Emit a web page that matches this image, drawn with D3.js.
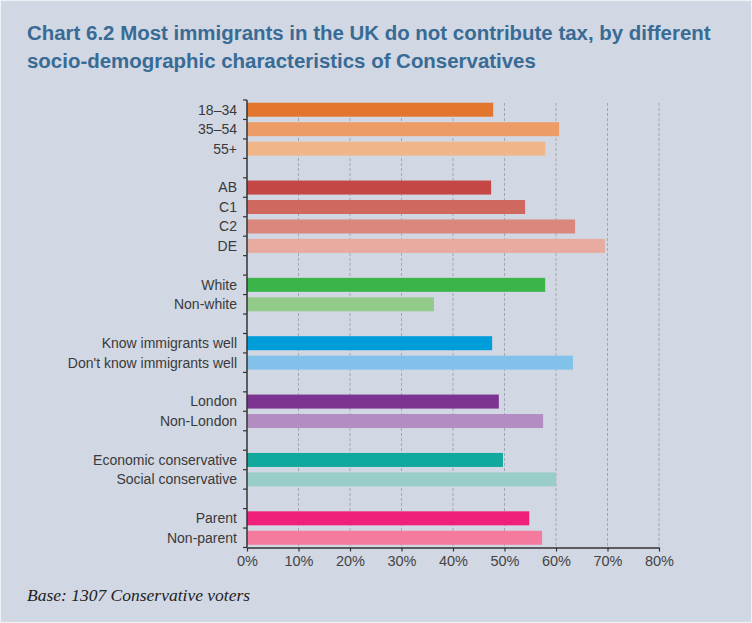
<!DOCTYPE html>
<html><head><meta charset="utf-8">
<script src="https://cdn.jsdelivr.net/npm/d3@7"></script>
<style>
html,body{margin:0;padding:0;background:#ffffff;}
svg{display:block;}
</style></head>
<body>
<script>
const categories = ["18–34","35–54","55+","","AB","C1","C2","DE","","White","Non-white","","Know immigrants well","Don't know immigrants well","","London","Non-London","","Economic conservative","Social conservative","","Parent","Non-parent"];
const values = [47.8,60.6,57.9,null,47.4,54.0,63.7,69.5,null,57.9,36.3,null,47.6,63.3,null,48.9,57.5,null,49.7,60.0,null,54.8,57.3];
const colors = ["#e3762e","#ec9c66","#f0b589",null,"#c44645","#cf695f","#da887e","#e8aba0",null,"#3bb54a","#93cc8a",null,"#009ddb","#82c1ea",null,"#7c3391","#b38dc2",null,"#11a89d","#99cdc8",null,"#ef1f7a","#f47b9e"];
const xTicks = [0,10,20,30,40,50,60,70,80];
const titleLines = ["Chart 6.2 Most immigrants in the UK do not contribute tax, by different","socio-demographic characteristics of Conservatives"];
const footnote = "Base: 1307 Conservative voters";

const W = 752, H = 623;
const svg = d3.select("body").append("svg").attr("width", W).attr("height", H);
svg.append("rect").attr("x",0).attr("y",0).attr("width",W).attr("height",H).attr("fill","#eef1f6");
svg.append("rect").attr("x",1).attr("y",1).attr("width",W-2).attr("height",H-2).attr("fill","#d1d7e3");

// title
const title = svg.append("g");
titleLines.forEach((t,i)=>{
  title.append("text").attr("x",27).attr("y",40+i*27.5).text(t)
    .attr("font-family","'Liberation Sans', Arial, sans-serif").attr("font-weight",700)
    .attr("font-size",18).attr("fill","#386b95");
});
const t0 = title.select("text").node();
const len = t0.getComputedTextLength();
title.selectAll("text").attr("font-size", 18*684/len);

const x = d3.scaleLinear().domain([0,80]).range([247,659]);
const idx = d3.range(categories.length);
const y = d3.scaleBand().domain(idx).range([100,547.5]).paddingInner(0.28).paddingOuter(0.14);
const step = y.step();
const yTop = 100, yBot = 547.5;

// gridlines
svg.append("g").selectAll("line").data(xTicks.filter(d=>d>0)).join("line")
  .attr("x1",d=>x(d)).attr("x2",d=>x(d)).attr("y1",103).attr("y2",yBot)
  .attr("stroke","#a3a7b0").attr("stroke-width",1).attr("stroke-dasharray","3,2");

// bars
svg.append("g").selectAll("rect").data(idx.filter(i=>values[i]!=null)).join("rect")
  .attr("x",x(0)).attr("y",i=>y(i)).attr("width",i=>x(values[i])-x(0)).attr("height",y.bandwidth())
  .attr("fill",i=>colors[i]);

// y labels
svg.append("g").selectAll("text").data(idx.filter(i=>categories[i]!=="")).join("text")
  .attr("x",237).attr("y",i=>y(i)+y.bandwidth()/2).attr("dy","0.35em").attr("text-anchor","end")
  .attr("font-family","'Liberation Sans', Arial, sans-serif").attr("font-size",14).attr("fill","#3a3a3a")
  .text(i=>categories[i]);

// y axis line and boundary ticks
const ya = svg.append("g");
ya.append("line").attr("x1",x(0)).attr("x2",x(0)).attr("y1",yTop).attr("y2",yBot).attr("stroke","#333").attr("stroke-width",1.5);
ya.selectAll("line.tk").data(d3.range(categories.length+1)).join("line").attr("class","tk")
  .attr("x1",x(0)-4).attr("x2",x(0)).attr("y1",i=>yTop+i*step).attr("y2",i=>yTop+i*step)
  .attr("stroke","#333").attr("stroke-width",1.2);

// x axis
const xa = svg.append("g").attr("transform",`translate(0,${yBot})`)
  .call(d3.axisBottom(x).tickValues(xTicks).tickFormat(d=>d+"%").tickSize(4).tickSizeOuter(0));
xa.select(".domain").attr("stroke","#333").attr("stroke-width",1.5);
xa.selectAll(".tick line").attr("stroke","#333").attr("stroke-width",1.2);
xa.selectAll(".tick text").attr("font-family","'Liberation Sans', Arial, sans-serif").attr("font-size",14.5)
  .attr("fill","#444").attr("y",18.5).attr("dy",0);

// footnote
svg.append("text").attr("x",27).attr("y",601).text(footnote)
  .attr("font-family","'Liberation Serif', 'Times New Roman', serif").attr("font-style","italic")
  .attr("font-size",17.5).attr("fill","#222");
</script>
</body></html>
